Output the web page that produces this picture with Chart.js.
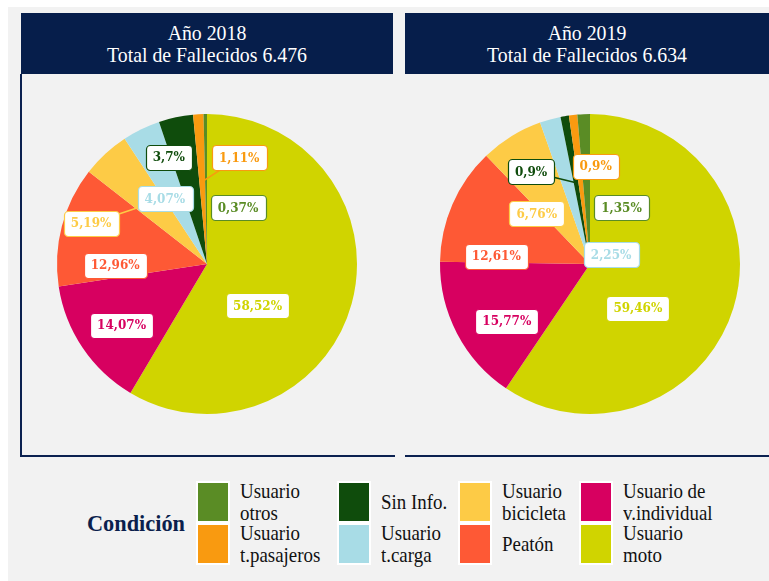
<!DOCTYPE html>
<html>
<head>
<meta charset="utf-8">
<script src="https://cdn.jsdelivr.net/npm/chart.js@4.4.1/dist/chart.umd.min.js"></script>
<style>
    html, body { margin: 0; padding: 0; background: #fff; }
    body { width: 769px; height: 581px; position: relative; overflow: hidden; }
    #fondo { position: absolute; left: 8px; top: 7px; width: 761px; height: 574px; background: #f2f2f2; }
    .hdr {
        position: absolute; top: 13px; height: 61px; background: #061e4b; color: #fff;
        font-family: 'Liberation Serif', serif; font-size: 22px; line-height: 22px;
        text-align: center; box-sizing: border-box; padding-top: 9px;
    }
    .hdr div { transform: scaleX(0.9); }
    .panel { position: absolute; top: 74px; height: 381px; border-bottom: 2px solid #0b2150; }
    .wrap { position: absolute; top: 74px; }
    .leg-sw { position: absolute; width: 30px; height: 38px; border: 2px solid #fff; }
    .leg-tx {
        position: absolute; height: 42px; display: flex; align-items: center;
        font-family: 'Liberation Serif', serif; font-size: 21px; line-height: 22px; color: #111;
        white-space: pre-line; transform: scaleX(0.9); transform-origin: left center;
    }
    #condicion {
        position: absolute; left: 87px; top: 508px; font-family: 'Liberation Serif', serif;
        font-weight: bold; font-size: 24px; line-height: 30px; color: #0b1f4d;
        transform: scaleX(0.93); transform-origin: left center;
    }
</style>
</head>
<body>
<div id="fondo"></div>

<div class="hdr" style="left:21px;width:372px;"><div>Año 2018</div><div>Total de Fallecidos 6.476</div></div>
<div class="hdr" style="left:405px;width:364px;"><div>Año 2019</div><div>Total de Fallecidos 6.634</div></div>

<div class="panel" style="left:20px;width:373px;border-left:2px solid #0b2150;"></div>
<div class="panel" style="left:405px;width:364px;"></div>

<div class="wrap" style="left:22px;"><canvas id="pie2018" width="370" height="382"></canvas></div>
<div class="wrap" style="left:406px;"><canvas id="pie2019" width="363" height="382"></canvas></div>

<div id="leyenda"></div>

<script>
// orden de la leyenda (el pastel va en orden inverso, empezando por "Usuario moto")
const categorias = [
    'Usuario\notros', 'Usuario\nt.pasajeros', 'Sin Info.', 'Usuario\nt.carga',
    'Usuario\nbicicleta', 'Peatón', 'Usuario de\nv.individual', 'Usuario\nmoto'
];
const colores = ['#5a8c25', '#f99a10', '#0f4c0c', '#a8dce6', '#fdcb46', '#fe5935', '#d70060', '#d0d400'];

const valores2018 = [0.37, 1.11, 3.7, 4.07, 5.19, 12.96, 14.07, 58.52];
const valores2019 = [1.35, 0.9, 0.9, 2.25, 6.76, 12.61, 15.77, 59.46];

// desplazamiento de cada etiqueta respecto a su punto en la rebanada
const ajuste2018 = [[32, 26], [37, -24], [-21, -26], [-6, 9], [-60, 20], [-12, 22], [-17, 15], [-29, 20]];
const ajuste2019 = [[35, 26], [15, -16], [-45, -11], [43, 70], [-10, 20], [-18, 25], [-10, 19], [-31, 20]];
const guia2018 = [false, true, false, false, true, false, false, false];
const guia2019 = [false, false, true, false, false, false, false, false];

const fmt = v => String(v).replace('.', ',') + '%';

const etiquetasPlugin = {
    id: 'etiquetas',
    afterDatasetsDraw(chart, args, opts) {
        const ctx  = chart.ctx;
        const meta = chart.getDatasetMeta(0);
        const data = chart.data.datasets[0].data;
        ctx.save();
        ctx.font = 'bold 12px "DejaVu Serif", serif';
        ctx.textAlign = 'center';
        ctx.textBaseline = 'middle';
        meta.data.forEach((arc, i) => {
            const p = arc.getProps(['x', 'y', 'startAngle', 'endAngle', 'outerRadius'], true);
            const mid = (p.startAngle + p.endAngle) / 2;
            const ax = p.x + Math.cos(mid) * p.outerRadius * 0.55;
            const ay = p.y + Math.sin(mid) * p.outerRadius * 0.55;
            const lx = ax + opts.ajuste[i][0];
            const ly = ay + opts.ajuste[i][1];
            const col = opts.colores[i];
            const txt = fmt(data[i]);
            const w = ctx.measureText(txt).width + 14;
            const h = 25;

            if (opts.guia[i]) {
                ctx.strokeStyle = col;
                ctx.lineWidth = 1.6;
                ctx.beginPath();
                ctx.moveTo(ax, ay);
                ctx.lineTo(lx, ly);
                ctx.stroke();
            }

            ctx.beginPath();
            ctx.roundRect(Math.round(lx - w / 2) + 0.5, Math.round(ly - h / 2) + 0.5, Math.round(w), h, 4);
            ctx.fillStyle = '#fff';
            ctx.fill();
            ctx.strokeStyle = col;
            ctx.lineWidth = 1.2;
            ctx.stroke();

            ctx.fillStyle = col;
            ctx.fillText(txt, lx, ly + 1);
        });
        ctx.restore();
    }
};

function crearPastel(id, valores, ajuste, guia, padding) {
    const rev = a => a.slice().reverse();
    return new Chart(document.getElementById(id), {
        type: 'pie',
        data: {
            labels: rev(categorias),
            datasets: [{
                data: rev(valores),
                backgroundColor: rev(colores),
                borderWidth: 0,
            }]
        },
        options: {
            responsive: false,
            devicePixelRatio: 1,
            animation: false,
            layout: { padding },
            plugins: {
                legend: { display: false },
                tooltip: { enabled: false },
                etiquetas: { ajuste: rev(ajuste), guia: rev(guia), colores: rev(colores) }
            }
        },
        plugins: [etiquetasPlugin]
    });
}

crearPastel('pie2018', valores2018, ajuste2018, guia2018, { left: 35, right: 35, top: 40, bottom: 42 });
crearPastel('pie2019', valores2019, ajuste2019, guia2019, { left: 34, right: 29, top: 40, bottom: 42 });

// leyenda
const leyenda = document.getElementById('leyenda');
const colX = [196, 337, 458, 579];
const filaY = [481, 523];
leyenda.innerHTML = '<div id="condicion">Condición</div>' + categorias.map((c, i) => {
    const x = colX[Math.floor(i / 2)];
    const y = filaY[i % 2];
    return `<div class="leg-sw" style="left:${x}px;top:${y}px;background:${colores[i]};"></div>
            <div class="leg-tx" style="left:${x + 44}px;top:${y}px;">${c}</div>`;
}).join('');
</script>
</body>
</html>
